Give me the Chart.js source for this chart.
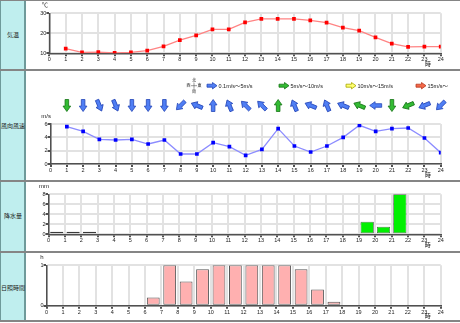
<!DOCTYPE html>
<html>
<head>
<meta charset="utf-8">
<script src="https://cdn.jsdelivr.net/npm/chart.js@4/dist/chart.umd.min.js"></script>
<style>
  html, body { margin: 0; padding: 0; background: #fff; }
  #page { position: relative; width: 460px; height: 323px; overflow: hidden; background: #fff; }
  .side { position: absolute; left: 0; top: 0; width: 25px; height: 322px; background: #bfeeee; border-left: 1px solid #6f9a9a; box-sizing: border-box; }
  .sideEdge { position: absolute; left: 24px; top: 0; width: 2px; height: 322px; background: #6f9a9a; }
  .sep { position: absolute; left: 0; width: 460px; height: 2px; background: #858585; }
  .name { position: absolute; left: 0; width: 26px; text-align: center; font: 6px "Noto Sans CJK JP", sans-serif; color: #222; line-height: 8px; white-space: nowrap; }
  canvas { position: absolute; left: 0; }
</style>
</head>
<body>
<div id="page">
  <div class="side"></div>
  <div class="sideEdge"></div>
  <div class="sep" style="top:0;height:1px"></div>
  <div class="sep" style="top:69px"></div>
  <div class="sep" style="top:180px"></div>
  <div class="sep" style="top:251px"></div>
  <div class="sep" style="top:320px"></div>
  <div class="name" id="n0" style="top:31px"></div>
  <div class="name" id="n1" style="top:122px"></div>
  <div class="name" id="n2" style="top:212px"></div>
  <div class="name" id="n3" style="top:284px"></div>
  <canvas id="cTemp" width="460" height="68" style="top:1px"></canvas>
  <canvas id="cWind" width="460" height="109" style="top:71px"></canvas>
  <canvas id="cRain" width="460" height="69" style="top:182px"></canvas>
  <canvas id="cSun"  width="460" height="67" style="top:253px"></canvas>
</div>
<script>
// ---- hourly observations (hour-ending values, 1時〜24時) ----
const HOURS       = [1, 2, 3, 4, 5, 6, 7, 8, 9, 10, 11, 12, 13, 14, 15, 16, 17, 18, 19, 20, 21, 22, 23, 24];
const TEMP_C      = [12.3, 10.5, 10.6, 10.2, 10.5, 11.3, 13.5, 16.6, 19.0, 22.0, 22.0, 25.5, 27.2, 27.2, 27.2, 26.5, 25.3, 22.8, 21.3, 18.0, 14.8, 13.2, 13.3, 13.3];
const WIND_SPEED  = [5.6, 4.9, 3.7, 3.6, 3.7, 3.0, 3.6, 1.5, 1.5, 3.2, 2.6, 1.3, 2.2, 5.3, 2.7, 1.8, 2.7, 4.0, 5.8, 4.9, 5.3, 5.4, 3.9, 1.7];
const WIND_FROM   = ['北', '北', '北北西', '北北西', '北', '北', '北', '北東', '東南東', '南', '南南東', '南東', '南東', '南', '南南東', '東南東', '南南東', '東南東', '東南東', '東', '北', '東北東', '東北東', '北東'];
const PRECIP_MM   = [0.5, 0.5, 0.5, 0, 0, 0, 0, 0, 0, 0, 0, 0, 0, 0, 0, 0, 0, 0, 0, 2.5, 1.5, 8.0, 0, 0];
const SUN_H       = [0, 0, 0, 0, 0, 0, 0.2, 1.0, 0.6, 0.9, 1.0, 1.0, 1.0, 1.0, 1.0, 0.9, 0.4, 0.1, 0, 0, 0, 0, 0, 0];

// ---- labels ----
const PANEL_NAMES = ['気温', '風向風速', '降水量', '日照時間'];
const UNITS       = ['℃', 'm/s', 'mm', 'h'];
const HOUR_WORD   = '時';
const SPEED_BINS  = ['0.1m/s〜5m/s', '5m/s〜10m/s', '10m/s〜15m/s', '15m/s〜'];
const SPEED_EDGES = [5, 10, 15];
const COMPASS16   = ['北', '北北東', '北東', '東北東', '東', '東南東', '南東', '南南東', '南', '南南西', '南西', '西南西', '西', '西北西', '北西', '北北西'];
const COMPASS_MARKS = ['北', '東', '南', '西'];

PANEL_NAMES.forEach((t, i) => { document.getElementById('n' + i).textContent = t; });

const NUM_FONT = '"Liberation Sans", "Noto Sans CJK JP", sans-serif';
const JP_FONT = '"Noto Sans CJK JP", sans-serif';
const TEXT = '#222';
const GRID = '#e2e2e2';
const AXIS = '#505050';

const ARROW_COLORS = [
  { fill: '#4f7ef4', stroke: '#2446b8' },
  { fill: '#33bb33', stroke: '#167516' },
  { fill: '#ffff70', stroke: '#a8a800' },
  { fill: '#f46848', stroke: '#b83820' }
];

function speedBin(s) {
  let b = 0;
  while (b < SPEED_EDGES.length && s >= SPEED_EDGES[b]) b++;
  return b;
}

// block arrow pointing along a compass bearing (degrees clockwise from north)
function drawArrow(ctx, cx, cy, bearing, len, colors) {
  const L = len / 2, hw = len * 0.32, sw = len * 0.15, hl = len * 0.45;
  ctx.save();
  ctx.translate(cx, cy);
  ctx.rotate(bearing * Math.PI / 180);
  ctx.beginPath();
  ctx.moveTo(0, -L);
  ctx.lineTo(hw, -L + hl);
  ctx.lineTo(sw, -L + hl);
  ctx.lineTo(sw, L);
  ctx.lineTo(-sw, L);
  ctx.lineTo(-sw, -L + hl);
  ctx.lineTo(-hw, -L + hl);
  ctx.closePath();
  ctx.fillStyle = colors.fill;
  ctx.fill();
  ctx.lineWidth = 0.8;
  ctx.strokeStyle = colors.stroke;
  ctx.stroke();
  ctx.restore();
}

// unit caption above the value axis and 時 under the hour axis
const panelText = {
  id: 'panelText',
  afterDraw(chart, args, opts) {
    const { ctx, chartArea, scales } = chart;
    ctx.save();
    ctx.fillStyle = TEXT;
    ctx.textAlign = 'center';
    ctx.textBaseline = 'middle';
    ctx.font = '6px ' + NUM_FONT;
    ctx.fillText(opts.unit, chartArea.left - 4.5, chartArea.top - 7.5);
    ctx.font = '6px ' + JP_FONT;
    ctx.fillText(HOUR_WORD, scales.x.getPixelForValue(23) + 3.5, chartArea.bottom + 10.3);
    ctx.restore();
  }
};

// wind direction arrows per hour plus the speed-class legend
const windArrows = {
  id: 'windArrows',
  afterDraw(chart) {
    const { ctx, chartArea, scales } = chart;
    const rowY = chartArea.top - 18.5;
    HOURS.forEach((h, i) => {
      const from = COMPASS16.indexOf(WIND_FROM[i]) * 22.5;
      drawArrow(ctx, scales.x.getPixelForValue(h), rowY, from + 180, 12, ARROW_COLORS[speedBin(WIND_SPEED[i])]);
    });

    const legY = chartArea.top - 38.3;
    // compass key
    ctx.save();
    ctx.fillStyle = TEXT;
    ctx.strokeStyle = '#555';
    ctx.lineWidth = 0.6;
    const kx = 194, ky = legY;
    ctx.beginPath();
    ctx.moveTo(kx, ky - 3); ctx.lineTo(kx, ky + 3);
    ctx.moveTo(kx - 3, ky); ctx.lineTo(kx + 3, ky);
    ctx.stroke();
    ctx.font = '4px ' + JP_FONT;
    ctx.textAlign = 'center';
    ctx.textBaseline = 'middle';
    ctx.fillText(COMPASS_MARKS[0], kx, ky - 5.5);
    ctx.fillText(COMPASS_MARKS[1], kx + 5.5, ky);
    ctx.fillText(COMPASS_MARKS[2], kx, ky + 5.5);
    ctx.fillText(COMPASS_MARKS[3], kx - 5.5, ky);

    const arrowX = [212, 284, 351, 421];
    ctx.font = '5.5px ' + NUM_FONT;
    ctx.textAlign = 'left';
    SPEED_BINS.forEach((label, i) => {
      drawArrow(ctx, arrowX[i], legY, 90, 10, ARROW_COLORS[i]);
      ctx.fillStyle = TEXT;
      ctx.fillText(label, arrowX[i] + 6.5, legY + 0.3);
    });
    ctx.restore();
  }
};

function hourAxis(xHeight) {
  return {
    type: 'linear', min: 0, max: 24, offset: false,
    ticks: { stepSize: 1, autoSkip: false, maxRotation: 0, padding: 0, color: TEXT, font: { family: NUM_FONT, size: 5.5 } },
    grid: { color: GRID, lineWidth: 2, tickColor: AXIS, tickLength: 3, offset: false },
    border: { color: AXIS, width: 1.5 },
    afterFit(s) { s.height = xHeight; }
  };
}

function valueAxis(min, max, step, yWidth) {
  return {
    min, max,
    ticks: { stepSize: step, padding: 0, color: TEXT, font: { family: NUM_FONT, size: 5.5 } },
    grid: { color: GRID, lineWidth: 2, tickColor: AXIS, tickLength: 3 },
    border: { color: AXIS, width: 1.5 },
    afterFit(s) { s.width = yWidth; }
  };
}

function baseOptions(padTop, unit) {
  return {
    responsive: false,
    animation: false,
    devicePixelRatio: 1,
    layout: { padding: { top: padTop, right: 19.3, left: 0, bottom: 0 } },
    plugins: { legend: { display: false }, tooltip: { enabled: false }, panelText: { unit } }
  };
}

const points = (vals) => vals.map((v, i) => ({ x: HOURS[i], y: v }));
const hourBars = (vals) => vals.map((v, i) => ({ x: HOURS[i] - 0.5, y: v }));

// 気温
new Chart(document.getElementById('cTemp'), {
  type: 'line',
  data: { datasets: [{
    data: points(TEMP_C),
    borderColor: '#ff8484', borderWidth: 1.3,
    pointStyle: 'rect', pointRadius: 2.6,
    pointBackgroundColor: '#ff0000', pointBorderColor: '#ff0000', pointBorderWidth: 0
  }] },
  options: Object.assign(baseOptions(12.3, UNITS[0]), {
    scales: { x: hourAxis(15.7), y: valueAxis(10, 30, 10, 49.4) }
  }),
  plugins: [panelText]
});

// 風向風速
new Chart(document.getElementById('cWind'), {
  type: 'line',
  data: { datasets: [{
    data: points(WIND_SPEED),
    borderColor: '#8c8cff', borderWidth: 1.3,
    pointStyle: 'rect', pointRadius: 2.6,
    pointBackgroundColor: '#0000ff', pointBorderColor: '#0000ff', pointBorderWidth: 0
  }] },
  options: Object.assign(baseOptions(53, UNITS[1]), {
    scales: { x: hourAxis(16), y: valueAxis(0, 6, 2, 50.6) }
  }),
  plugins: [panelText, windArrows]
});

// 降水量
new Chart(document.getElementById('cRain'), {
  type: 'bar',
  data: { datasets: [{
    data: hourBars(PRECIP_MM),
    backgroundColor: '#00f000', borderColor: '#3a3a3a',
    borderWidth: (c) => (c.raw && c.raw.y > 0 ? 0.7 : 0),
    borderSkipped: false,
    barPercentage: 0.81, categoryPercentage: 1
  }] },
  options: Object.assign(baseOptions(12.3, UNITS[2]), {
    scales: { x: hourAxis(16.7), y: valueAxis(0, 8, 2, 48.6) }
  }),
  plugins: [panelText]
});

// 日照時間
new Chart(document.getElementById('cSun'), {
  type: 'bar',
  data: { datasets: [{
    data: hourBars(SUN_H),
    backgroundColor: '#ffb0b0', borderColor: '#555555',
    borderWidth: (c) => (c.raw && c.raw.y > 0 ? 1 : 0),
    borderSkipped: false,
    barPercentage: 0.78, categoryPercentage: 1
  }] },
  options: Object.assign(baseOptions(12.3, UNITS[3]), {
    scales: { x: hourAxis(14.3), y: valueAxis(0, 1, 1, 46.5) }
  }),
  plugins: [panelText]
});
</script>
</body>
</html>
